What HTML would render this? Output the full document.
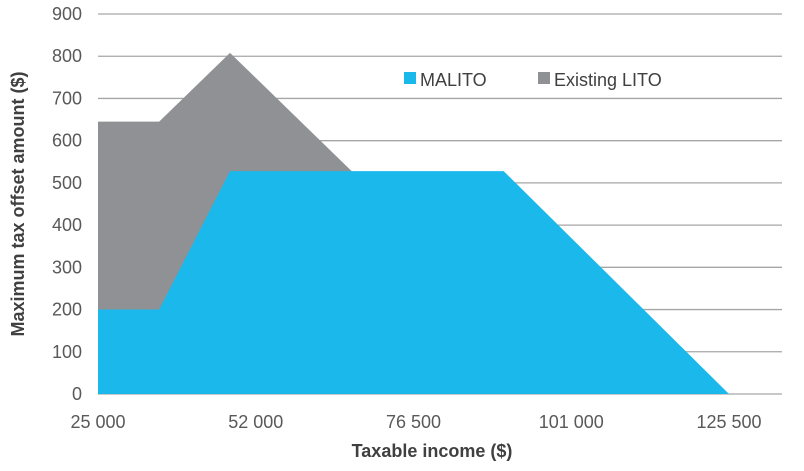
<!DOCTYPE html>
<html><head><meta charset="utf-8"><style>
body{margin:0;background:#fff;font-family:"Liberation Sans",Arial,sans-serif;}
svg{display:block}
</style></head><body>
<svg id="c" width="804" height="471"></svg>
<script>
const xTickValues=[27500,52000,76500,101000,125500];
const xTickLabels=["25 000","52 000","76 500","101 000","125 500"];
const yTicks=[0,100,200,300,400,500,600,700,800,900];
const litoIncome=[27500,37000,48000,102500];
const litoValues=[645,645,808,0];
const malitoIncome=[27500,37000,48000,90500,125500];
const malitoValues=[200,200,528,528,0];
const NS="http://www.w3.org/2000/svg";
const svg=document.getElementById('c');
const X0=98,X1=729,Y0=394,Y1=14;
const sx=v=>X0+(v-27500)/(125500-27500)*(X1-X0);
const sy=v=>Y0-v/900*(Y0-Y1);
function el(t,a,txt){const e=document.createElementNS(NS,t);for(const k in a)e.setAttribute(k,a[k]);if(txt!==undefined)e.textContent=txt;svg.appendChild(e);return e;}
yTicks.forEach(t=>{
 const g=el('line',{x1:X0,x2:782,y1:sy(t),y2:sy(t),stroke:'#a6a6a6','stroke-width':1.3});
 
 
 const l=el('text',{x:82,y:sy(t)+6,'text-anchor':'end','font-size':18,fill:'#595959'},t);
 
 
});
function area(xs,ys,color,name){
 let d='M'+sx(xs[0])+','+sy(0);
 xs.forEach((x,i)=>{d+=' L'+sx(x)+','+sy(ys[i]);});
 d+=' L'+sx(xs[xs.length-1])+','+sy(0)+' Z';
 const p=el('path',{d:d,fill:color});
 
 
}
area(litoIncome,litoValues,'#8f9195','existing-lito-area');
area(malitoIncome,malitoValues,'#1bb8eb','malito-area');
xTickValues.forEach((v,i)=>{
 const t=el('text',{x:sx(v),y:428,'text-anchor':'middle','font-size':18,fill:'#595959'},xTickLabels[i]);
 
 
});
const xt=el('text',{x:432,y:457,'text-anchor':'middle','font-size':18,'font-weight':'bold',fill:'#404040'},'Taxable income ($)');


const yt=el('text',{x:0,y:0,'text-anchor':'middle','font-size':18,'font-weight':'bold',fill:'#404040',transform:'translate(24,204) rotate(-90)'},'Maximum tax offset amount ($)');


const r1=el('rect',{x:404,y:72,width:12,height:12,fill:'#1bb8eb'});


const t1=el('text',{x:420,y:86,'font-size':18,fill:'#404040'},'MALITO');


const r2=el('rect',{x:538,y:72,width:12,height:12,fill:'#8f9195'});


const t2=el('text',{x:554,y:86,'font-size':18,fill:'#404040'},'Existing LITO');


</script>
</body></html>
